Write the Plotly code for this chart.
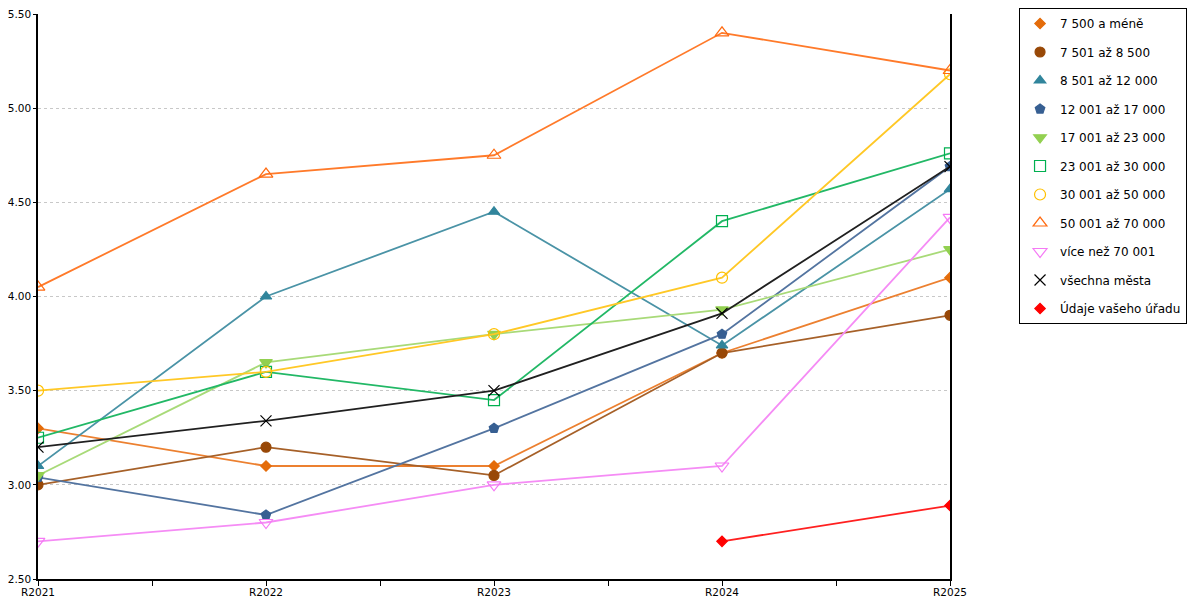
import plotly.graph_objects as go

years = ["R2021", "R2022", "R2023", "R2024", "R2025"]

names = [
    "7 500 a méně",
    "7 501 až 8 500",
    "8 501 až 12 000",
    "12 001 až 17 000",
    "17 001 až 23 000",
    "23 001 až 30 000",
    "30 001 až 50 000",
    "50 001 až 70 000",
    "více než 70 001",
    "všechna města",
    "Údaje vašeho úřadu",
]

v_7500 = [3.30, 3.10, 3.10, 3.70, 4.10]
v_8500 = [3.00, 3.20, 3.05, 3.70, 3.90]
v_12000 = [3.10, 4.00, 4.45, 3.74, 4.57]
v_17000 = [3.04, 2.84, 3.30, 3.80, 4.69]
v_23000 = [3.05, 3.65, 3.80, 3.93, 4.25]
v_30000 = [3.25, 3.60, 3.45, 4.40, 4.76]
v_50000 = [3.50, 3.60, 3.80, 4.10, 5.18]
v_70000 = [4.05, 4.65, 4.75, 5.40, 5.20]
v_nad70 = [2.70, 2.80, 3.00, 3.10, 4.42]
v_vse = [3.20, 3.34, 3.50, 3.91, 4.69]
v_urad = [None, None, None, 2.70, 2.89]

series = [v_7500, v_8500, v_12000, v_17000, v_23000, v_30000,
          v_50000, v_70000, v_nad70, v_vse, v_urad]

colors = ["#E46C0A", "#984807", "#31859C", "#375F92", "#92D050", "#00B050",
          "#FFC000", "#FF6A10", "#F57AF5", "#000000", "#FF0000"]
line_colors = ["#EC8030", "#A66028", "#4A93A6", "#5374A0", "#A8DA78", "#22B866",
               "#FFC826", "#FF7A2A", "#F58CF5", "#202020", "#FF2020"]
symbols = ["diamond", "circle", "triangle-up", "pentagon", "triangle-down",
           "square-open", "circle-open", "triangle-up-open", "triangle-down-open",
           "x-thin-open", "diamond"]
sizes = [8, 10, 10, 10, 11, 11, 11, 12, 12, 11, 8]

fig = go.Figure()
for i, (name, vals) in enumerate(zip(names, series)):
    # line only, kept out of the legend
    fig.add_trace(
        go.Scatter(
            x=years, y=vals, mode="lines", showlegend=False,
            line=dict(color=line_colors[i], width=1.8),
            hoverinfo="skip",
        )
    )
    # markers, shown in the legend
    fig.add_trace(
        go.Scatter(
            x=years, y=vals, name=name, mode="markers", legendgroup=name,
            marker=dict(symbol=symbols[i], size=sizes[i], color=colors[i],
                        line=dict(color=colors[i], width=1.2)),
        )
    )

# empty trace so the second x axis (ticks at and between years) gets drawn
fig.add_trace(go.Scatter(x=[0.5], y=[None], xaxis="x2", showlegend=False,
                         hoverinfo="skip"))

# page body adds 8px, so the figure is 8px smaller and margins shifted
fig.update_layout(
    width=1192,
    height=592,
    margin=dict(l=30, r=250, t=6, b=21, autoexpand=False),
    plot_bgcolor="white",
    paper_bgcolor="white",
    font=dict(family="DejaVu Sans", size=11, color="#000000"),
    showlegend=True,
    legend=dict(
        x=1.0757, y=1.0106, xanchor="left", yanchor="top",
        bordercolor="#000000", borderwidth=1,
        font=dict(size=12), tracegroupgap=9.5,
        traceorder="grouped", itemwidth=30, maxheight=1000,
    ),
    xaxis=dict(
        type="category", range=[0, 4], showgrid=False, automargin=False,
        showline=True, linecolor="#000000", linewidth=1.5,
        ticks="outside", ticklen=3, tickcolor="#000000",
        tickfont=dict(size=10.5), zeroline=False,
    ),
    xaxis2=dict(
        overlaying="x", anchor="y", side="bottom", range=[0, 4],
        showgrid=False, automargin=False,
        tickmode="array", tickvals=[0, 0.5, 1, 1.5, 2, 2.5, 3, 3.5, 4],
        ticks="outside", ticklen=6, tickcolor="#000000", tickwidth=1,
        showticklabels=False, showline=False, zeroline=False,
    ),
    yaxis=dict(
        range=[2.5, 5.5], dtick=0.5, tickformat=".2f", automargin=False,
        showgrid=True, gridcolor="#C8C8C8", griddash="dot", gridwidth=1,
        showline=True, linecolor="#000000", linewidth=1.5, mirror=True,
        ticks="outside", ticklen=3, tickcolor="#000000",
        tickfont=dict(size=10.5), zeroline=False,
        ticklabeloverflow="allow",
    ),
)

fig.write_html("out.html")
